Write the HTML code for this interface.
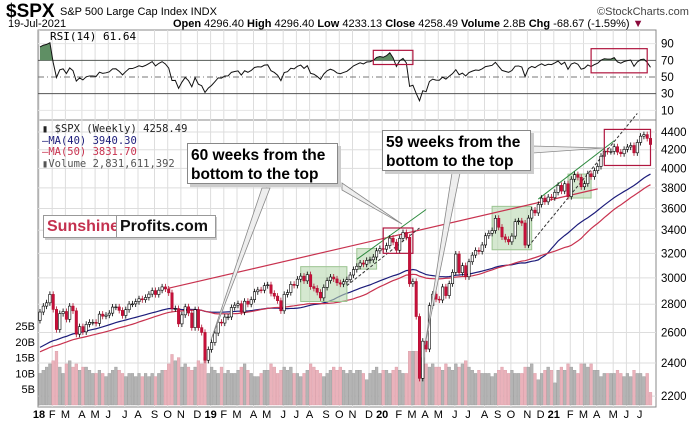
<!DOCTYPE html>
<html><head><meta charset="utf-8">
<style>
body{margin:0;background:#fff;width:700px;height:421px;overflow:hidden;font-family:"Liberation Sans",sans-serif}
svg{display:block}
</style></head><body>
<svg id="c" width="700" height="421" xmlns="http://www.w3.org/2000/svg">
<text x="6" y="17" font-size="19" font-weight="bold" transform="scale(1,1)">$SPX</text>
<text x="60" y="15" font-size="11">S&amp;P 500 Large Cap Index  INDX</text>
<text x="597" y="15" font-size="11" fill="#444">©StockCharts.com</text>
<text x="8" y="27" font-size="11">19-Jul-2021</text>
<text x="173" y="27" font-size="11"><tspan font-weight="bold">Open</tspan> 4296.40 <tspan font-weight="bold">High</tspan> 4296.40 <tspan font-weight="bold">Low</tspan> 4233.13 <tspan font-weight="bold">Close</tspan> 4258.49 <tspan font-weight="bold">Volume</tspan> 2.8B <tspan font-weight="bold">Chg</tspan> -68.67 (-1.59%) <tspan fill="#8b0a3c">▼</tspan></text>
<g id="g"></g>
</svg>
<script>
// ---- data ----
const pre = [2277,2275,2271,2295,2297,2316,2351,2367,2383,2372,2373,2344,2344,2362,2356,2329,2349,2384,2399,2391,2382,2416,2439,2432,2433,2439,2423,2425,2422,2444,2460,2473,2476,2441,2426,2443,2477,2462,2500,2502,2519,2550,2553,2575,2581,2587,2579,2602,2642,2652,2640,2652,2675,2683];
const closes = [
2743,2786,2810,2873,2762,2620,2732,2747,2691,2786,2752,2588,2640,2604,2656,2670,2670,2663,2728,2713,2721,2735,2779,2780,2755,2718,2760,2801,2802,2819,2840,2833,2850,2875,2902,2872,2905,2930,2914,2885,2767,2768,2659,2723,2781,2736,2633,2760,2633,2600,2417,2486,
2532,2596,2671,2665,2707,2708,2776,2793,2804,2743,2822,2800,2834,2893,2907,2905,2940,2946,2881,2860,2826,2752,2873,2887,2950,2942,2990,3014,2977,3026,2932,2919,2889,2847,2926,2979,3007,2992,2962,2952,2970,2986,3023,3067,3093,3120,3110,3141,3146,3169,3221,3240,
3235,3265,3330,3295,3226,3328,3380,3338,2954,2972,2711,2305,2541,2489,2790,2875,2837,2831,2930,2864,2955,3044,3194,3041,3098,3009,3130,3185,3225,3216,3271,3351,3373,3397,3508,3427,3341,3319,3298,3348,3477,3484,3465,3270,3510,3585,3558,3638,3699,3663,3709,3703,3756,
3825,3768,3841,3714,3887,3934,3907,3811,3842,3943,3913,3975,4020,4129,4185,4180,4181,4233,4174,4156,4204,4230,4247,4166,4281,4352,4370,4327,4258];
const volumes = [10,11,12,13,14,17,12,10,13,14,12,13,11,12,12,11,10,10,11,10,9,10,11,12,11,10,9,10,10,9,10,9,10,9,10,9,10,11,11,13,16,14,15,12,13,12,11,12,14,13,15,10,
12,11,10,12,10,11,10,10,11,12,13,11,10,9,9,10,11,11,13,12,10,11,12,11,12,10,10,9,10,11,13,12,11,10,9,10,11,12,11,12,11,10,11,10,11,11,10,8,10,11,12,10,
11,11,10,11,12,11,10,10,17,17,17,17,15,13,12,13,12,12,11,13,12,11,13,12,13,14,12,11,10,11,10,10,10,9,10,11,12,11,10,11,10,10,10,12,12,13,10,8,10,11,12,11,7,
11,12,11,13,12,11,10,13,13,12,13,11,11,9,10,10,10,10,11,10,9,10,9,11,10,10,9,10,4];
const priceTicks = [4400,4200,4000,3800,3600,3400,3200,3000,2800,2600,2400,2200];
const volTicks = [5,10,15,20,25];
const rsiTicks = [90,70,50,30,10];

// ---- axes ----
const X0=40, DX=3.3;
const xw = i => X0 + i*DX;
const yp = p => 132 + (Math.log(4400)-Math.log(p))*381;
const yv = v => 405 - v*3.16;
const yr = r => 77 - (r-50)*0.833;
const NS='http://www.w3.org/2000/svg';
const g=document.getElementById('g');
function mk(tag,attrs,parent){const e=document.createElementNS(NS,tag);for(const k in attrs)e.setAttribute(k,attrs[k]);(parent||g).appendChild(e);return e;}

// panels
const rsiP=mk('rect',{x:38,y:30,width:618,height:90,fill:'#fff',stroke:'#888'});


const mainP=mk('rect',{x:38,y:120,width:618,height:287,fill:'#fff',stroke:'#888'});



// month gridlines & labels
const start=new Date(2018,0,5);
let prevM=-1;
const mInit='JFMAMJJASOND';
for(let i=0;i<closes.length;i++){
  const d=new Date(start.getTime()+i*7*864e5);
  if(d.getMonth()!==prevM){
    prevM=d.getMonth();
    const x=xw(i)-1;
    mk('line',{x1:x,y1:30,x2:x,y2:407,stroke:'#ddd','stroke-width':1});
    const isY=prevM===0;
    const t=mk('text',{x:x,y:418,'font-size':11,'text-anchor':'middle','font-weight':isY?'bold':'normal'});
    t.textContent=isY?String(d.getFullYear()).slice(2):mInit[prevM];
    
    
  }
}
// price grid/ticks
priceTicks.forEach(p=>{
  mk('line',{x1:38,y1:yp(p),x2:656,y2:yp(p),stroke:'#ddd'});
  const t=mk('text',{x:661,y:yp(p)+4,'font-size':11.5});
  t.textContent=p;
  
  
});
volTicks.forEach(v=>{
  const t=mk('text',{x:35,y:yv(v)+4,'font-size':11,'text-anchor':'end'});
  t.textContent=v+'B';
  
  
});
// RSI grid
rsiTicks.forEach(r=>{
  const t=mk('text',{x:661,y:yr(r)+4,'font-size':11.5});
  t.textContent=r;
  
  
  if(r===90||r===10) mk('line',{x1:38,y1:yr(r),x2:656,y2:yr(r),stroke:'#e4e4e4'});
});
mk('line',{x1:38,y1:yr(70),x2:656,y2:yr(70),stroke:'#555'});
mk('line',{x1:38,y1:yr(30),x2:656,y2:yr(30),stroke:'#555'});
mk('line',{x1:38,y1:yr(50),x2:656,y2:yr(50),stroke:'#777','stroke-dasharray':'6,3,1,3'});

// RSI calc (Wilder)
const all=pre.concat(closes);
let ag=0,al=0;const rsi=[];
for(let i=1;i<all.length;i++){
  const ch=all[i]-all[i-1],gn=Math.max(ch,0),ls=Math.max(-ch,0);
  if(i<=14){ag+=gn/14;al+=ls/14;}else{ag=(ag*13+gn)/14;al=(al*13+ls)/14;}
  if(i>=all.length-closes.length) rsi.push(al===0?100:100-100/(1+ag/al));
}
const cp=mk('clipPath',{id:'above70'});mk('rect',{x:38,y:30,width:618,height:yr(70)-30},cp);
let pts=rsi.map((r,i)=>xw(i)+','+yr(r)).join(' ');
const rf=mk('polygon',{points:xw(0)+','+yr(70)+' '+pts+' '+xw(rsi.length-1)+','+yr(70),fill:'#5f8f64','clip-path':'url(#above70)'});


const rl=mk('polyline',{points:pts,fill:'none',stroke:'#111','stroke-width':1});


const rlab=mk('text',{x:50,y:40,'font-size':11,'font-family':'DejaVu Sans Mono'});
rlab.textContent='RSI(14) 61.64';



// volume bars
volumes.forEach((v,i)=>{
  const down=closes[i]<(i?closes[i-1]:pre[pre.length-1]);
  const b=mk('rect',{x:xw(i)-1.4,y:yv(v),width:2.8,height:405-yv(v),fill:down?'#eab2bb':'#b4b4b4',stroke:down?'#d99aa5':'#999','stroke-width':0.4});
  
  
});

// moving averages
function ma(n){return closes.map((c,i)=>{const k=pre.length+i;let s=0;for(let j=k-n+1;j<=k;j++)s+=all[j];return s/n;});}
[[40,'#1c1c7a','ma40-line'],[50,'#c8324f','ma50-line']].forEach(([n,col,name])=>{
  const m=ma(n);
  const l=mk('polyline',{points:m.map((v,i)=>xw(i)+','+yp(v)).join(' '),fill:'none',stroke:col,'stroke-width':1.2});
  
  
});

// annotations (in data coords: week index, price)
const ix = x => (x-X0)/DX; // helper for annotation layout only
function seg(i1,p1,i2,p2,st,name){const l=mk('line',Object.assign({x1:xw(i1),y1:yp(p1),x2:xw(i2),y2:yp(p2)},st));}
function box(i1,p1,i2,p2,st,name){const r=mk('rect',Object.assign({x:xw(i1),y:yp(p1),width:xw(i2)-xw(i1),height:yp(p2)-yp(p1)},st));}
const gb={fill:'#b9d9b0','fill-opacity':0.6,stroke:'#9cc492'};
box(79,3090,93,2820,gb,'consolidation-box-2019');
box(96,3240,102,3070,gb,'consolidation-box-2019b');
box(137,3620,149,3230,gb,'consolidation-box-2020');
box(160,3940,167,3700,gb,'consolidation-box-2021');
seg(39,2920,169,3790,{stroke:'#c8324f','stroke-width':1.2},'resistance-trendline');
seg(96,3150,117,3590,{stroke:'#2d8a3e','stroke-width':1},'trend-line-green-2020');
seg(93,2940,115,3420,{stroke:'#333','stroke-width':1,'stroke-dasharray':'3,2'},'dashed-trend-2020');
seg(151,3690,174,4300,{stroke:'#2d8a3e','stroke-width':1},'trend-line-green-2021');
seg(148,3260,181,4620,{stroke:'#333','stroke-width':1,'stroke-dasharray':'3,2'},'dashed-trend-2021');

// candles
closes.forEach((c,i)=>{
  const o=i?closes[i-1]:pre[pre.length-1];
  const hi=Math.max(o,c)*1.008, lo=Math.min(o,c)*0.992;
  const down=c<o, x=xw(i);
  mk('line',{x1:x,y1:yp(hi),x2:x,y2:yp(lo),stroke:down?'#b0102f':'#000','stroke-width':0.8});
  const yt=yp(Math.max(o,c)),yb=yp(Math.min(o,c));
  const b=mk('rect',{x:x-1.2,y:yt,width:2.4,height:Math.max(yb-yt,0.8),fill:down?'#c8103c':'#fff',stroke:down?'#b0102f':'#000','stroke-width':0.6});
  
  
});
box(104,3420,113,3200,{fill:'none',stroke:'#b0163f','stroke-width':1.2},'highlight-box-2020-top');
box(171,4430,185,4030,{fill:'none',stroke:'#b0163f','stroke-width':1.2},'highlight-box-2021-top');
// RSI highlight boxes
[[101,113,82,65,'rsi-box-2020'],[167,184,84,55,'rsi-box-2021']].forEach(([a,b2,r1,r2,n])=>{
  const r=mk('rect',{x:xw(a),y:yr(r1),width:xw(b2)-xw(a),height:yr(r2)-yr(r1),fill:'none',stroke:'#b0163f','stroke-width':1.2});
  
});

// callout pointers
function wedge(pts,name){const p=mk('polygon',{points:pts,fill:'#eee',stroke:'#888','stroke-width':0.8});}
wedge('262,188 270,188 211,340','callout-pointer-1');
wedge('342,183 342,190 402,224','callout-pointer-1b');
wedge('452,173 460,173 425,345','callout-pointer-2');
wedge('533,146 533,153 604,148','callout-pointer-2b');
</script>
<div style="position:absolute;left:42px;top:124px;font:10.5px 'DejaVu Sans Mono',monospace;line-height:11.7px;color:#222">
<div>▮ $SPX (Weekly) 4258.49</div>
<div style="color:#1c1c7a">—MA(40) 3940.30</div>
<div style="color:#c8324f">—MA(50) 3831.70</div>
<div style="color:#555">▮Volume 2,831,611,392</div>
</div>
<div style="position:absolute;left:187px;top:143px;width:151px;height:41px;background:#fff;border:1px solid #888;box-shadow:3px 3px 0 #ccc;font:bold 15.5px 'Liberation Sans',sans-serif;line-height:19px;padding:2px 0 0 3px;box-sizing:border-box">60 weeks from the<br>bottom to the top</div>
<div style="position:absolute;left:382px;top:130px;width:149px;height:41px;background:#fff;border:1px solid #888;box-shadow:3px 3px 0 #ccc;font:bold 15.5px 'Liberation Sans',sans-serif;line-height:19px;padding:2px 0 0 3px;box-sizing:border-box">59 weeks from the<br>bottom to the top</div>
<div style="position:absolute;left:43px;top:215px;width:172px;height:23px;background:#fff;border:1px solid #999;box-shadow:2px 2px 0 #ccc;font:bold 16px 'Liberation Sans',sans-serif;line-height:22px;padding-left:3px;box-sizing:border-box;color:#c4314f">Sunshine<span style="position:absolute;left:72px;top:-1px;height:23px;width:100px;background:#fff;border:1px solid #999;color:#111;padding-left:3px;box-sizing:border-box">Profits.com</span></div>
</body></html>
